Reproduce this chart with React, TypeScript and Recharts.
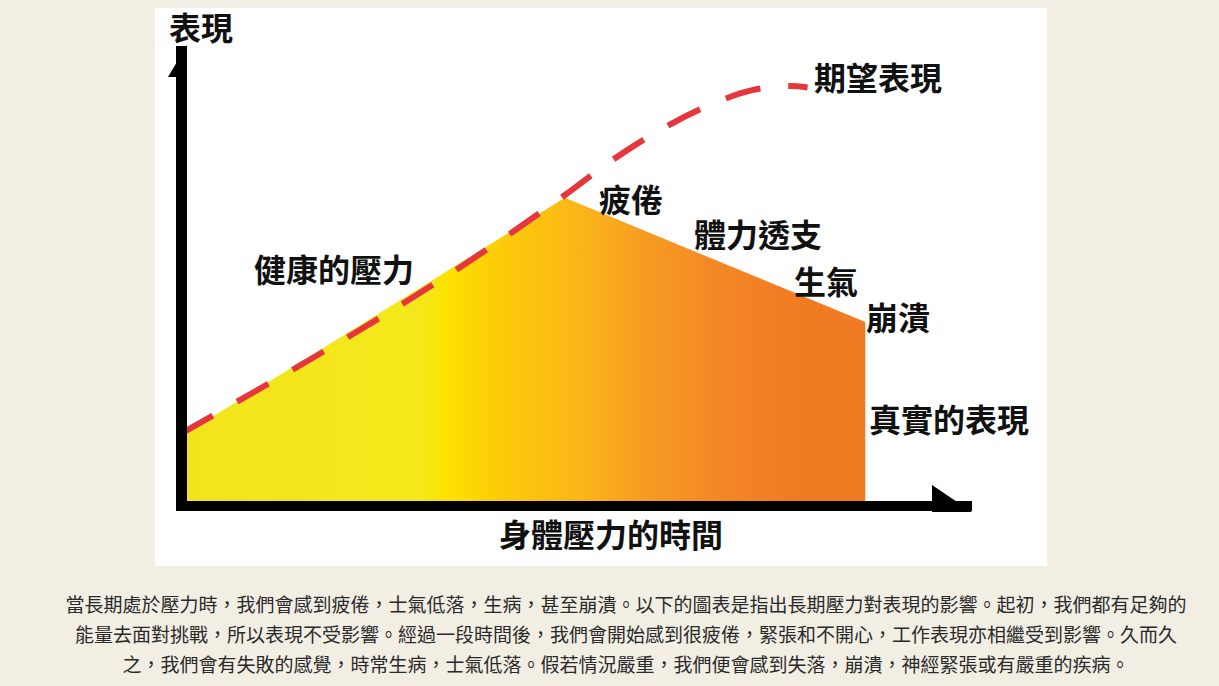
import { ComposedChart, Area, Line, XAxis, YAxis, ReferenceDot, ReferenceLine } from "recharts";

// time along x (0..100), performance along y (0..100)
const realTime = [0, 48.5, 86.5];
const realPerf = [15.2, 67.0, 40.0];

const expectTime = [0, 48.5, 54.0, 60.5, 66.9, 72.2, 77.0, 79.2];
const expectPerf = [15.8, 67.6, 74.6, 81.7, 87.2, 90.4, 91.3, 91.0];

const realData = realTime.map((t, i) => ({ t, real: realPerf[i] }));
const expectData = expectTime.map((t, i) => ({ t, expected: expectPerf[i] }));

const xMax = 100;
const yMax = 100;

const labels = [
    { text: "表現", left: 169, top: 10 },
    { text: "期望表現", left: 814, top: 60 },
    { text: "疲倦", left: 599, top: 182 },
    { text: "體力透支", left: 694, top: 217 },
    { text: "生氣", left: 794, top: 264 },
    { text: "崩潰", left: 866, top: 300 },
    { text: "健康的壓力", left: 254, top: 252 },
    { text: "真實的表現", left: 869, top: 402 },
    { text: "身體壓力的時間", left: 499, top: 517 },
];

const captionLines = [
    "當長期處於壓力時，我們會感到疲倦，士氣低落，生病，甚至崩潰。以下的圖表是指出長期壓力對表現的影響。起初，我們都有足夠的",
    "能量去面對挑戰，所以表現不受影響。經過一段時間後，我們會開始感到很疲倦，緊張和不開心，工作表現亦相繼受到影響。久而久",
    "之，我們會有失敗的感覺，時常生病，士氣低落。假若情況嚴重，我們便會感到失落，崩潰，神經緊張或有嚴重的疾病。",
];

const gradStops = [
    { offset: "0%", color: "#f2e41c" },
    { offset: "35%", color: "#f5e81a" },
    { offset: "39%", color: "#fde200" },
    { offset: "45%", color: "#fccf06" },
    { offset: "59%", color: "#fab418" },
    { offset: "68%", color: "#f79b22" },
    { offset: "78%", color: "#f38826" },
    { offset: "88%", color: "#f17c24" },
    { offset: "100%", color: "#f07a22" },
];

const CJK = '"Noto Sans CJK TC", "Noto Sans CJK SC", sans-serif';

function XArrow(props: any) {
    const { cx, cy } = props;
    return <path d={`M${cx - 40},${cy - 21} L${cx},${cy + 6} L${cx - 40},${cy + 6} Z`} fill="#000" />;
}

function YArrow(props: any) {
    const { cx, cy } = props;
    return <path d={`M${cx + 5.5},${cy - 1} L${cx - 13.5},${cy + 31} L${cx + 5.5},${cy + 31} Z`} fill="#000" />;
}

// fills the little notch where the two thick axis bands meet
function Corner(props: any) {
    const { cx, cy } = props;
    return <rect x={cx - 5.5} y={cy - 1} width={11} height={6} fill="#000" />;
}

export default function App() {
    return (
        <div
            style={{
                position: "fixed",
                left: 0,
                top: 0,
                width: 1219,
                height: 686,
                background: "#f2eee4",
                overflow: "hidden",
                fontFamily: CJK,
            }}
        >
            <div
                style={{
                    position: "absolute",
                    left: 155,
                    top: 8,
                    width: 892,
                    height: 558,
                    background: "#ffffff",
                }}
            />
            <div style={{ position: "absolute", left: 0, top: 0 }}>
                <ComposedChart
                    width={1219}
                    height={686}
                    margin={{ top: 46, right: 247, bottom: 180, left: 181.5 }}
                >
                    <defs>
                        <linearGradient id="stressGrad" x1="0" y1="0" x2="1" y2="0">
                            {gradStops.map((s) => (
                                <stop key={s.offset} offset={s.offset} stopColor={s.color} />
                            ))}
                        </linearGradient>
                    </defs>
                    <XAxis type="number" dataKey="t" domain={[0, xMax]} hide />
                    <YAxis type="number" domain={[0, yMax]} hide />
                    <Area
                        data={realData}
                        type="linear"
                        dataKey="real"
                        stroke="none"
                        fill="url(#stressGrad)"
                        fillOpacity={1}
                        dot={false}
                        activeDot={false}
                        isAnimationActive={false}
                    />
                    <Line
                        data={expectData}
                        type="monotone"
                        dataKey="expected"
                        stroke="#e6363d"
                        strokeWidth={6}
                        strokeDasharray="36 28"
                        dot={false}
                        activeDot={false}
                        isAnimationActive={false}
                    />
                    <ReferenceLine
                        segment={[{ x: 0, y: 0 }, { x: xMax, y: 0 }]}
                        stroke="#000"
                        strokeWidth={10}
                        ifOverflow="visible"
                    />
                    <ReferenceLine
                        segment={[{ x: 0, y: 0 }, { x: 0, y: yMax }]}
                        stroke="#000"
                        strokeWidth={11}
                        ifOverflow="visible"
                    />
                    <ReferenceDot x={0} y={0} r={1} shape={Corner} ifOverflow="visible" />
                    <ReferenceDot x={xMax} y={0} r={1} shape={XArrow} ifOverflow="visible" />
                    <ReferenceDot x={0} y={yMax} r={1} shape={YArrow} ifOverflow="visible" />
                </ComposedChart>
            </div>
            {labels.map((l) => (
                <div
                    key={l.text}
                    style={{
                        position: "absolute",
                        left: l.left,
                        top: l.top,
                        fontSize: 32,
                        lineHeight: "32px",
                        fontWeight: 700,
                        color: "#111",
                        whiteSpace: "nowrap",
                    }}
                >
                    {l.text}
                </div>
            ))}
            <div
                style={{
                    position: "absolute",
                    left: 0,
                    top: 589,
                    width: 1252,
                    textAlign: "center",
                    fontSize: 19,
                    lineHeight: "30px",
                    color: "#2a2a2a",
                }}
            >
                {captionLines.map((line, i) => (
                    <div key={i} style={{ whiteSpace: "nowrap" }}>
                        {line}
                    </div>
                ))}
            </div>
        </div>
    );
}
